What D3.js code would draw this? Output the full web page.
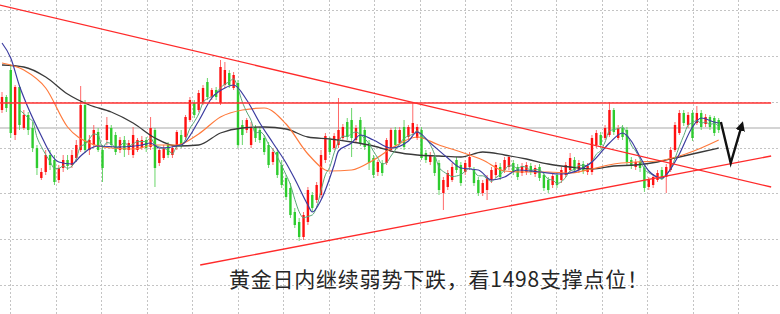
<!DOCTYPE html>
<html>
<head>
<meta charset="utf-8">
<script src="https://cdn.jsdelivr.net/npm/d3@7"></script>
<style>
  body { margin: 0; background: #fff; }
  svg { display: block; }
</style>
</head>
<body>
<script>
// candle data, one entry per bar
const opens = [
  1551,1564,1591,1526,1574,1533,1546,1533,1513,1483,
  1489,1506,1501,1481,1493,1501,1496,1503,1511,1556,
  1511,1516,1529,1511,1521,1533,1526,1511,1521,1511,
  1506,1511,1513,1521,1514,1531,1498,1503,1516,1506,
  1514,1526,1524,1541,1558,1551,1558,1579,1564,1571,
  1558,1576,1588,1573,1578,1536,1531,1516,1534,1531,
  1523,1516,1499,1509,1496,1483,1473,1449,1439,1424,
  1439,1466,1461,1466,1501,1521,1513,1516,1523,1539,
  1541,1521,1541,1531,1518,1503,1489,1498,1498,1511,
  1531,1518,1534,1524,1528,1523,1531,1508,1499,1504,
  1498,1468,1474,1481,1501,1496,1489,1494,1491,1481,
  1468,1471,1481,1486,1494,1491,1494,1498,1494,1488,
  1489,1495,1487,1494,1486,1481,1476,1486,1481,1486,
  1491,1501,1491,1497,1489,1489,1516,1526,1523,1526,
  1551,1523,1533,1531,1501,1494,1499,1493,1474,1476,
  1481,1491,1484,1491,1511,1528,1548,1536,1548,1538,
  1548,1537,1544,1543,1541
];
const highs = [
  1569,1566,1596,1576,1576,1551,1549,1539,1516,1493,
  1511,1511,1506,1496,1506,1506,1511,1521,1575,1561,
  1526,1536,1533,1516,1544,1536,1529,1524,1525,1521,
  1534,1523,1525,1524,1544,1533,1513,1516,1519,1516,
  1531,1531,1546,1564,1561,1571,1576,1583,1573,1574,
  1601,1599,1591,1589,1581,1541,1543,1539,1536,1534,
  1526,1519,1513,1511,1501,1486,1478,1453,1443,1449,
  1474,1469,1479,1511,1528,1524,1528,1563,1537,1543,
  1553,1536,1544,1534,1521,1506,1501,1501,1523,1533,
  1534,1534,1541,1536,1559,1537,1534,1511,1509,1506,
  1501,1484,1491,1498,1504,1499,1501,1509,1494,1484,
  1481,1486,1494,1499,1498,1504,1506,1501,1497,1498,
  1499,1498,1496,1497,1489,1484,1488,1489,1494,1499,
  1508,1504,1501,1500,1498,1526,1531,1529,1536,1559,
  1553,1536,1536,1534,1504,1502,1501,1496,1484,1487,
  1491,1494,1497,1514,1539,1551,1551,1549,1551,1555,
  1551,1547,1546,1545,1543
];
const lows = [
  1548,1549,1523,1521,1531,1531,1526,1509,1486,1481,
  1486,1491,1476,1478,1489,1491,1493,1499,1509,1508,
  1506,1513,1509,1479,1516,1513,1506,1508,1504,1506,
  1503,1509,1511,1509,1511,1474,1495,1501,1503,1503,
  1511,1513,1521,1539,1543,1549,1556,1561,1561,1561,
  1556,1573,1573,1571,1513,1516,1528,1513,1519,1518,
  1506,1493,1496,1483,1473,1461,1443,1433,1420,1421,
  1436,1449,1458,1463,1498,1506,1511,1513,1521,1521,
  1504,1518,1515,1511,1491,1483,1485,1485,1496,1509,
  1511,1516,1511,1521,1526,1521,1501,1498,1496,1485,
  1466,1451,1471,1479,1488,1475,1486,1491,1475,1465,
  1465,1461,1478,1483,1481,1488,1491,1486,1481,1485,
  1486,1486,1484,1480,1470,1468,1473,1473,1478,1484,
  1489,1488,1488,1487,1486,1486,1513,1513,1521,1524,
  1526,1521,1521,1496,1492,1491,1489,1469,1471,1473,
  1479,1481,1468,1489,1509,1526,1535,1533,1520,1536,
  1531,1534,1531,1525,1528
];
const closes = [
  1564,1553,1528,1574,1536,1546,1531,1513,1493,1489,
  1506,1496,1479,1493,1501,1495,1506,1516,1556,1511,
  1521,1531,1511,1493,1536,1516,1509,1521,1511,1518,
  1526,1521,1521,1513,1533,1493,1511,1513,1506,1513,
  1529,1516,1544,1561,1546,1568,1573,1564,1571,1564,
  1594,1591,1576,1586,1516,1526,1541,1534,1523,1521,
  1509,1496,1509,1486,1476,1464,1446,1436,1424,1446,
  1471,1453,1476,1506,1525,1509,1525,1531,1534,1524,
  1523,1533,1518,1514,1498,1486,1499,1488,1521,1531,
  1516,1531,1514,1534,1538,1534,1503,1501,1506,1488,
  1471,1481,1488,1494,1491,1478,1498,1504,1478,1468,
  1478,1483,1491,1496,1484,1501,1504,1489,1484,1495,
  1496,1489,1493,1483,1473,1471,1485,1476,1491,1496,
  1503,1491,1498,1490,1495,1523,1528,1516,1533,1551,
  1529,1533,1524,1499,1495,1499,1493,1473,1481,1484,
  1488,1484,1494,1511,1536,1548,1538,1546,1523,1548,
  1534,1544,1534,1528,1531
];

// moving averages
const maBars = [0,5,10,15,20,25,30,35,40,45,50,55,60,65,70,75,80,85,90,95,100,105,110,115,120,125,130,135,140,145,150,155,160,164];
const orangeVals = [1598,1591,1573,1534,1518,1513,1512,1516,1516,1527,1544,1551,1553,1537,1507,1490,1491,1501,1515,1524,1516,1509,1501,1490,1489,1489,1488,1492,1497,1499,1500,1505,1513,1521];
const blackVals = [1596,1594,1584,1567,1556,1549,1538,1523,1515,1516,1528,1533,1534,1532,1524,1522,1519,1515,1509,1506,1505,1504,1509,1506,1502,1497,1494,1492,1495,1496,1499,1504,1509,1513];
const blueBars = [0,2,4,6,9,11,13,16,18,20,22,27,32,34,36,41,45,48,51,53,56,59,62,65,67,70,71,73,76,77,80,82,85,89,93,95,98,102,105,109,112,115,118,123,128,135,139,142,144,146,148,151,153,155,158,160,163,164];
const blueVals = [1618,1603,1575,1553,1525,1508,1499,1497,1505,1512,1515,1514,1516,1518,1513,1516,1540,1563,1573,1576,1561,1538,1518,1498,1482,1456,1449,1461,1496,1510,1518,1526,1521,1513,1520,1529,1518,1503,1493,1491,1481,1484,1491,1489,1487,1499,1518,1528,1520,1504,1490,1483,1492,1507,1534,1543,1539,1538];

// drawn objects: [bar, price] anchors
const upperTrend = [[-0.5, 1656], [176, 1474]];
const lowerTrend = [[45.35, 1396], [176, 1505]];
const resistance = 1558;
const priceLine = 1533;
const arrowPts = [[164.5, 1539], [166.75, 1498], [169.3, 1536]];
const note = "黄金日内继续弱势下跌，看1498支撑点位！";

const W = 780, H = 314;
const svg = d3.select("body").append("svg").attr("width", W).attr("height", H);

const x = d3.scaleLinear().domain([0, closes.length - 1]).range([2, 718.7]);
const y = d3.scaleLinear().domain([1347, 1661]).range([H, 0]);

// dotted grid
const grid = svg.append("g").attr("stroke", "#c4c4c4").attr("stroke-width", 1).attr("stroke-dasharray", "2,2");
grid.selectAll(".gv").data(d3.range(10, W, 45.5)).join("line")
  .attr("x1", d => Math.round(d) + 0.5).attr("x2", d => Math.round(d) + 0.5)
  .attr("y1", 0).attr("y2", H);
grid.selectAll(".gh").data(d3.range(10.2, H, 45.8)).join("line")
  .attr("y1", d => Math.round(d) + 0.5).attr("y2", d => Math.round(d) + 0.5)
  .attr("x1", 0).attr("x2", W);

// light grey horizontal line
svg.append("line")
  .attr("x1", 0).attr("x2", W)
  .attr("y1", y(priceLine)).attr("y2", y(priceLine))
  .attr("stroke", "#d4d4d4").attr("stroke-width", 2);

// candles
const up = "#ff1010", down = "#2ecc2e";
const candles = svg.append("g").selectAll("g").data(closes).join("g");
candles.append("line")
  .attr("x1", (d, i) => x(i)).attr("x2", (d, i) => x(i))
  .attr("y1", (d, i) => y(highs[i])).attr("y2", (d, i) => y(lows[i]))
  .attr("stroke", (d, i) => closes[i] >= opens[i] ? "#ff6a6a" : "#6ad66a")
  .attr("stroke-width", 1);
candles.append("rect")
  .attr("x", (d, i) => x(i) - 1.2)
  .attr("width", 2.4)
  .attr("y", (d, i) => y(Math.max(opens[i], closes[i])))
  .attr("height", (d, i) => Math.max(1, Math.abs(y(opens[i]) - y(closes[i]))))
  .attr("fill", (d, i) => closes[i] >= opens[i] ? up : down);

// moving averages
const ma5 = closes.map((c, i) => i < 4 ? null : [i, d3.mean(closes.slice(i - 4, i + 1))]).filter(d => d);
const line = d3.line().x(d => x(d[0])).y(d => y(d[1])).curve(d3.curveMonotoneX);

svg.append("path").datum(maBars.map((b, i) => [b, blackVals[i]]))
  .attr("d", line).attr("fill", "none").attr("stroke", "#3a3a3a").attr("stroke-width", 1.3);
svg.append("path").datum(maBars.map((b, i) => [b, orangeVals[i]]))
  .attr("d", line).attr("fill", "none").attr("stroke", "#ff7a3c").attr("stroke-width", 1.2);
svg.append("path").datum(ma5)
  .attr("d", line).attr("fill", "none").attr("stroke", "#5aa878").attr("stroke-width", 1);
svg.append("path").datum(blueBars.map((b, i) => [b, blueVals[i]]))
  .attr("d", line).attr("fill", "none").attr("stroke", "#3c3ca0").attr("stroke-width", 1.2);

// trend lines
const straight = d3.line().x(d => x(d[0])).y(d => y(d[1]));
svg.append("path").datum(upperTrend).attr("d", straight)
  .attr("stroke", "#ff2a2a").attr("stroke-width", 1.3).attr("fill", "none");
svg.append("path").datum(lowerTrend).attr("d", straight)
  .attr("stroke", "#ff2a2a").attr("stroke-width", 1.3).attr("fill", "none");
svg.append("path").datum([[-0.5, resistance], [176, resistance]]).attr("d", straight)
  .attr("stroke", "#ff3030").attr("stroke-width", 1.6).attr("fill", "none");

// arrow
svg.append("defs").append("marker")
  .attr("id", "head").attr("viewBox", "0 0 10 10")
  .attr("refX", 6).attr("refY", 5)
  .attr("markerWidth", 4).attr("markerHeight", 4)
  .attr("orient", "auto")
  .append("path").attr("d", "M0,0L10,5L0,10z").attr("fill", "#111");
svg.append("path").datum(arrowPts).attr("d", straight)
  .attr("fill", "none").attr("stroke", "#111").attr("stroke-width", 2.4)
  .attr("stroke-linejoin", "miter")
  .attr("marker-end", "url(#head)");

// caption
svg.append("text")
  .attr("x", 229).attr("y", 287)
  .attr("textLength", 419).attr("lengthAdjust", "spacing")
  .attr("font-family", "'Noto Sans CJK SC', sans-serif")
  .attr("font-size", 21).attr("font-weight", 400)
  .attr("fill", "#262626")
  .text(note);
</script>
</body>
</html>
